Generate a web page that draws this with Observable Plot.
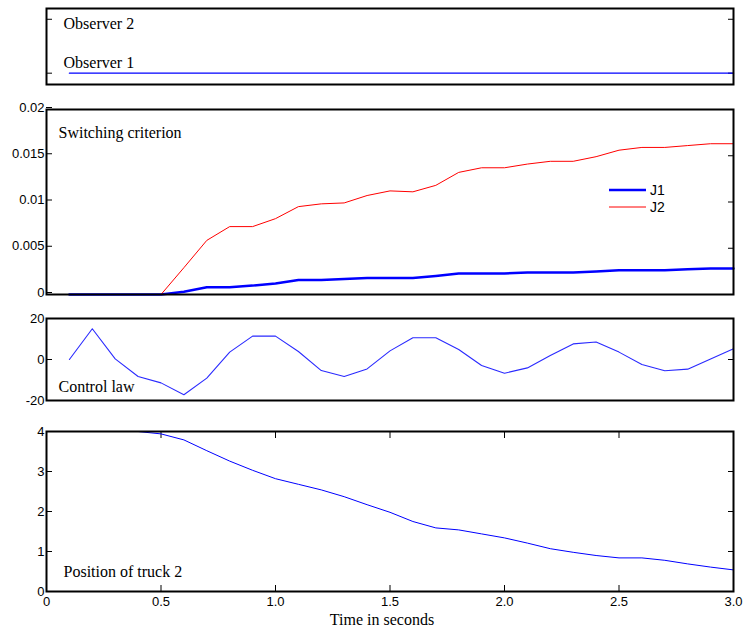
<!DOCTYPE html>
<html><head><meta charset="utf-8">
<script src="https://cdn.jsdelivr.net/npm/d3@7"></script>
<script src="https://cdn.jsdelivr.net/npm/@observablehq/plot@0.6"></script>
<style>
body{margin:0;background:#fff;}
#chart{position:relative;width:751px;height:632px;background:#fff;overflow:hidden;}
#chart svg{position:absolute;left:0;}
#legend{position:absolute;left:600px;top:180px;font-family:"Liberation Sans",Arial,sans-serif;font-size:13px;}
</style></head><body><div id="chart"><div id="legend"></div></div>
<script>
// ---- data ----
const time = [0.1,0.2,0.3,0.4,0.5,0.6,0.7,0.8,0.9,1.0,1.1,1.2,1.3,1.4,1.5,1.6,1.7,1.8,1.9,2.0,2.1,2.2,2.3,2.4,2.5,2.6,2.7,2.8,2.9,3.0];
const observer = [1,1,1,1,1,1,1,1,1,1,1,1,1,1,1,1,1,1,1,1,1,1,1,1,1,1,1,1,1,1];
const J1 = [0,0,0,0,0,0.0003,0.00078,0.00078,0.00096,0.0012,0.00156,0.00156,0.00167,0.00178,0.00178,0.00178,0.002,0.00227,0.00227,0.00227,0.00238,0.00238,0.00238,0.00248,0.00262,0.00262,0.00262,0.00273,0.0028,0.0028];
const J2 = [0,0,0,0,0,0.0029,0.00585,0.00734,0.00734,0.0082,0.0095,0.0098,0.0099,0.0107,0.0112,0.0111,0.0118,0.0132,0.0137,0.0137,0.0141,0.0144,0.0144,0.0149,0.0156,0.0159,0.0159,0.0161,0.0163,0.0163];
const controlLaw = [0,15.0,0.3,-8.3,-11.4,-17.2,-9.1,3.6,11.4,11.4,3.9,-5.4,-8.3,-4.6,4.2,10.6,10.6,4.9,-2.9,-6.7,-4.1,1.9,7.6,8.5,3.6,-2.4,-5.5,-4.7,0.3,5.2];
const position = [4.0,4.0,4.0,4.0,3.94,3.79,3.52,3.26,3.03,2.82,2.68,2.54,2.37,2.17,1.98,1.75,1.59,1.54,1.44,1.34,1.21,1.07,0.98,0.90,0.84,0.84,0.78,0.69,0.61,0.54];
const observerTicks = [1, 2];
const jTicks = [0, 0.005, 0.01, 0.015, 0.02];
const jTickLabels = ["0", "0.005", "0.01", "0.015", "0.02"];
const uTicks = [-20, 0, 20];
const posTicks = [0, 1, 2, 3, 4];
const timeTicks = [0, 0.5, 1.0, 1.5, 2.0, 2.5, 3.0];
const timeTickLabels = ["0", "0.5", "1.0", "1.5", "2.0", "2.5", "3.0"];
const legendItems = ["J1", "J2"];
const legendColors = ["#0000ff", "#ff0000"];

// ---- layout ----
const W = 751, ML = 46, MR = 18;
const sans = "'Liberation Sans', Arial, sans-serif";
const serif = "'Liberation Serif', 'Times New Roman', serif";
const chart = document.getElementById("chart");
const rows = (ys) => time.map((t, i) => ({t, v: ys[i]}));
const baseStyle = {fontFamily: sans, fontSize: "13px", background: "transparent", overflow: "visible", color: "black"};
const frame = Plot.frame({stroke: "black", strokeWidth: 2});
const blank = () => "";
function place(svg, top) { svg.style.top = top + "px"; chart.appendChild(svg); }
function label(text, anchor, dx, dy) {
  return Plot.text([text], {text: d => d, frameAnchor: anchor, dx, dy, lineAnchor: "bottom", textAnchor: "start", fontFamily: serif, fontSize: 16, fill: "black"});
}

// Panel 1: observers
place(Plot.plot({
  width: W, height: 95, marginTop: 8, marginBottom: 11, marginLeft: ML, marginRight: MR,
  style: baseStyle,
  x: {domain: [0, 3], axis: null},
  y: {domain: [0.79, 2.2]},
  marks: [
    Plot.axisY(observerTicks, {anchor: "left", tickSize: -6, tickFormat: blank, label: null}),
    Plot.axisY(observerTicks, {anchor: "right", tickSize: -6, tickFormat: blank, label: null}),
    Plot.line(rows(observer), {x: "t", y: "v", stroke: "#0000ff", strokeWidth: 1.3}),
    label("Observer 2", "top-left", 17, 20),
    label("Observer 1", "top-left", 17, 59),
    frame
  ]
}), 0);

// Panel 2: switching criterion
place(Plot.plot({
  width: W, height: 200, marginTop: 9, marginBottom: 6, marginLeft: ML, marginRight: MR,
  style: baseStyle,
  x: {domain: [0, 3], axis: null},
  y: {domain: [0, 0.02]},
  marks: [
    Plot.axisY(jTicks, {anchor: "left", tickSize: -6, tickPadding: 8, dy: -2, tickFormat: (d, i) => jTickLabels[i], label: null}),
    Plot.axisY(jTicks, {anchor: "right", tickSize: -6, tickFormat: blank, label: null}),
    Plot.line(rows(J1), {x: "t", y: "v", stroke: legendColors[0], strokeWidth: 2.5}),
    Plot.line(rows(J2), {x: "t", y: "v", stroke: legendColors[1], strokeWidth: 1}),
    label("Switching criterion", "top-left", 12, 28),
    frame
  ]
}), 100);

// Panel 3: control law
place(Plot.plot({
  width: W, height: 100, marginTop: 13, marginBottom: 5, marginLeft: ML, marginRight: MR,
  style: baseStyle,
  x: {domain: [0, 3], axis: null},
  y: {domain: [-20, 20]},
  marks: [
    Plot.axisY(uTicks, {anchor: "left", tickSize: -6, tickPadding: 8, tickFormat: d => String(d), label: null}),
    Plot.axisY(uTicks, {anchor: "right", tickSize: -6, tickFormat: blank, label: null}),
    Plot.line(rows(controlLaw), {x: "t", y: "v", stroke: "#2a2aff", strokeWidth: 1.1}),
    label("Control law", "bottom-left", 12, -9),
    frame
  ]
}), 305);

// Panel 4: position of truck 2
place(Plot.plot({
  width: W, height: 222, marginTop: 21, marginBottom: 41, marginLeft: ML, marginRight: MR,
  style: baseStyle,
  x: {domain: [0, 3]},
  y: {domain: [0, 4]},
  marks: [
    Plot.axisY(posTicks, {anchor: "left", tickSize: -6, tickPadding: 8, tickFormat: d => String(d), label: null}),
    Plot.axisY(posTicks, {anchor: "right", tickSize: -6, tickFormat: blank, label: null}),
    Plot.axisX(timeTicks, {anchor: "bottom", tickSize: -6, tickPadding: 11, tickFormat: (d, i) => timeTickLabels[i], label: null}),
    Plot.axisX(timeTicks, {anchor: "top", tickSize: -6, tickFormat: blank, label: null}),
    Plot.line(rows(position), {x: "t", y: "v", stroke: "#0000ff", strokeWidth: 1}),
    label("Position of truck 2", "bottom-left", 17, -15),
    Plot.text(["Time in seconds"], {text: d => d, frameAnchor: "bottom", dx: -8, dy: 33, lineAnchor: "bottom", textAnchor: "middle", fontFamily: serif, fontSize: 16, fill: "black"}),
    frame
  ]
}), 410);

// Legend for the switching criterion panel
const leg = d3.select("#legend").append("svg").attr("width", 70).attr("height", 40).style("position", "static").style("overflow", "visible");
legendItems.forEach((name, i) => {
  const g = leg.append("g").attr("transform", `translate(0, ${10 + i * 17})`);
  g.append("line").attr("x1", 9).attr("x2", 46).attr("y1", 0).attr("y2", 0)
    .attr("stroke", legendColors[i]).attr("stroke-width", i === 0 ? 2.5 : 1);
  g.append("text").attr("x", 50).attr("y", 0).attr("dy", "0.35em")
    .attr("font-family", sans).attr("font-size", 14).text(name);
});
</script>
</body></html>
